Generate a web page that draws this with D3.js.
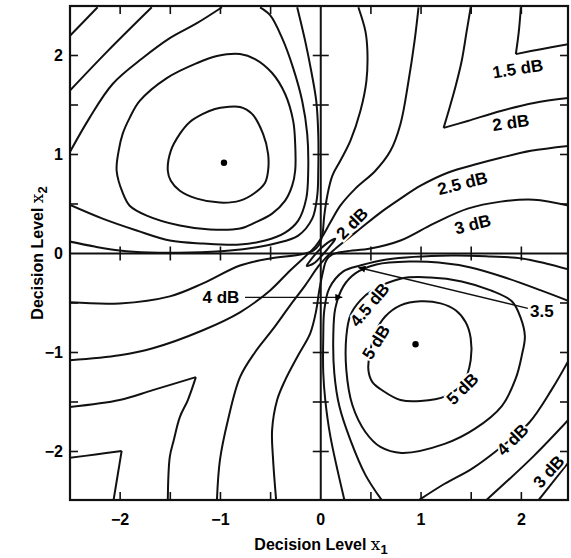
<!DOCTYPE html>
<html><head><meta charset="utf-8">
<script src="https://cdn.jsdelivr.net/npm/d3@7"></script>
<style>body{margin:0;background:#fff}svg{display:block}</style>
</head><body>
<svg id="c" width="571" height="558"></svg>
<script>
// ---------- data ----------
const tickLabels = [-2, -1, 0, 1, 2];
const minorTicks = [-2, -1.5, -1, -0.5, 0.5, 1, 1.5, 2];
const maxima = [[-0.965, 0.916], [0.945, -0.916]];

// upper-left lobe
const ul50 = [[-1.525,0.836],[-1.495,1.037],[-1.405,1.208],[-1.305,1.329],[-1.175,1.410],[-1.055,1.460],[-0.935,1.480],[-0.805,1.480],[-0.685,1.410],[-0.575,1.208],[-0.525,1.007],[-0.525,0.836],[-0.555,0.715],[-0.655,0.614],[-0.805,0.534],[-1.005,0.514],[-1.235,0.554],[-1.405,0.634],[-1.495,0.735]];
const ul45 = [[-2.035,0.836],[-2.015,1.037],[-1.975,1.208],[-1.905,1.370],[-1.805,1.541],[-1.535,1.772],[-1.235,1.923],[-1.035,1.994],[-0.805,2.014],[-0.655,1.964],[-0.485,1.823],[-0.355,1.611],[-0.275,1.339],[-0.255,1.108],[-0.255,0.836],[-0.285,0.685],[-0.355,0.534],[-0.485,0.403],[-0.655,0.312],[-0.805,0.252],[-1.105,0.242],[-1.405,0.282],[-1.735,0.383],[-1.905,0.483],[-1.975,0.614]];
const ul40a = [[-2.505,1.017],[-2.305,1.370],[-2.075,1.712],[-1.775,1.974],[-1.505,2.175],[-1.235,2.326],[-0.985,2.487]];
const ul40b = [[-0.605,2.487],[-0.505,2.407],[-0.385,2.175],[-0.275,1.873],[-0.185,1.541],[-0.135,1.208],[-0.125,0.836],[-0.145,0.554],[-0.225,0.332],[-0.355,0.211],[-0.555,0.131],[-0.805,0.091],[-1.175,0.101],[-1.505,0.131],[-1.835,0.232],[-2.175,0.352],[-2.505,0.493]];
const ul35axis = [[-2.505,0.121],[-2.255,0.070],[-2.005,0.030],[-1.705,0.010],[-1.305,0.010],[-0.905,0.030],[-0.655,0.060],[-0.455,0.101],[-0.225,0.181],[-0.085,0.352],[-0.035,0.584],[-0.025,0.836],[-0.025,1.208],[-0.045,1.541],[-0.095,1.843],[-0.155,2.145],[-0.235,2.487]];
const ul35corner = [[-2.505,1.641],[-2.125,2.044],[-1.685,2.487]];
const ul30corner = [[-2.505,2.195],[-2.225,2.487]];

// upper-right
const ur15a = [[1.995,2.487],[1.975,2.246],[1.945,2.014]];
const ur15b = [[1.945,2.014],[2.195,2.064],[2.475,2.115]];
const ur20a = [[1.495,2.487],[1.455,2.246],[1.405,1.944],[1.345,1.692],[1.275,1.440],[1.225,1.269]];
const ur20b = [[1.225,1.269],[1.465,1.339],[1.795,1.440],[2.125,1.521],[2.475,1.571]];

// lower-left
const ll15a = [[-2.505,-2.065],[-2.245,-2.030],[-1.985,-1.994]];
const ll15b = [[-1.985,-1.994],[-2.025,-2.240],[-2.065,-2.487]];
const ll20a = [[-2.505,-1.551],[-2.005,-1.480],[-1.675,-1.380],[-1.245,-1.249]];
const ll20b = [[-1.245,-1.249],[-1.325,-1.480],[-1.405,-1.652],[-1.465,-1.883],[-1.505,-2.054],[-1.525,-2.487]];

// curves through the centre
const q25 = [[2.475,1.088],[2.095,1.037],[1.795,0.967],[1.565,0.906],[1.265,0.816],[0.995,0.685],[0.795,0.554],[0.595,0.413],[0.395,0.252],[0.245,0.131],[0.125,0.030],[0.045,-0.050],[-0.025,-0.131],[-0.155,-0.322],[-0.305,-0.524],[-0.485,-0.775],[-0.655,-0.997],[-0.805,-1.249],[-0.925,-1.682],[-1.005,-2.085],[-1.035,-2.487]];
const r25 = [[0.975,2.487],[0.935,2.145],[0.875,1.742],[0.795,1.309],[0.695,1.037],[0.545,0.836],[0.345,0.655],[0.195,0.483],[0.095,0.312],[0.015,0.171],[-0.055,0.070],[-0.155,-0.030],[-0.305,-0.171],[-0.505,-0.373],[-0.805,-0.594],[-1.175,-0.775],[-1.675,-0.957],[-2.005,-1.027],[-2.505,-1.078]];
const p30 = [[2.475,0.483],[2.125,0.544],[1.795,0.524],[1.465,0.453],[1.125,0.302],[0.795,0.131],[0.495,0.050],[0.245,0.020],[0.115,-0.010],[0.055,-0.070],[0.025,-0.171],[-0.015,-0.373],[-0.045,-0.574],[-0.105,-0.806],[-0.225,-1.027],[-0.355,-1.279],[-0.435,-1.480],[-0.485,-1.782],[-0.475,-2.085],[-0.445,-2.487]];
const s30 = [[0.375,2.487],[0.445,2.246],[0.465,2.044],[0.455,1.742],[0.395,1.440],[0.295,1.138],[0.195,0.937],[0.115,0.785],[0.065,0.584],[0.035,0.383],[0.015,0.181],[-0.015,0.091],[-0.075,0.030],[-0.205,-0.010],[-0.505,-0.050],[-0.805,-0.121],[-1.175,-0.302],[-1.505,-0.433],[-2.005,-0.504],[-2.505,-0.493]];
const origin20 = [[-0.140,-0.125],[-0.100,-0.065],[-0.020,0.030],[0.070,0.110],[0.145,0.148],[0.100,0.085],[0.020,-0.010],[-0.070,-0.100]];

// lower-right lobe
const lr50 = [[0.475,-1.178],[0.495,-0.977],[0.555,-0.775],[0.645,-0.634],[0.795,-0.524],[0.995,-0.483],[1.195,-0.504],[1.345,-0.574],[1.445,-0.695],[1.495,-0.856],[1.495,-1.078],[1.425,-1.299],[1.245,-1.440],[0.995,-1.490],[0.795,-1.480],[0.625,-1.390],[0.515,-1.299]];
const lr45 = [[2.035,-0.836],[2.005,-1.027],[1.945,-1.259],[1.805,-1.541],[1.535,-1.772],[1.235,-1.923],[0.805,-2.014],[0.595,-1.954],[0.445,-1.803],[0.315,-1.531],[0.255,-1.178],[0.255,-0.836],[0.295,-0.624],[0.395,-0.473],[0.515,-0.373],[0.805,-0.252],[1.095,-0.242],[1.405,-0.282],[1.695,-0.373],[1.905,-0.483],[1.995,-0.655]];
const lr40a = [[0.605,-2.487],[0.445,-2.236],[0.295,-1.883],[0.185,-1.541],[0.135,-1.208],[0.125,-0.836],[0.145,-0.554],[0.225,-0.332],[0.345,-0.201],[0.555,-0.111],[0.895,-0.081],[1.175,-0.091],[1.495,-0.141],[1.835,-0.242],[2.195,-0.373],[2.505,-0.493]];
const lr40b = [[2.505,-1.017],[2.305,-1.370],[2.075,-1.712],[1.775,-1.974],[1.505,-2.175],[1.235,-2.326],[0.985,-2.487]];
const lr35axis = [[0.235,-2.487],[0.095,-1.843],[0.045,-1.480],[0.025,-1.208],[0.025,-0.836],[0.035,-0.574],[0.085,-0.352],[0.225,-0.181],[0.395,-0.121],[0.655,-0.060],[1.305,-0.020],[1.695,-0.030],[2.005,-0.050],[2.245,-0.101],[2.505,-0.171]];
const lr35corner = [[2.505,-1.641],[2.125,-2.044],[1.655,-2.487]];
const lr30corner = [[2.505,-2.065],[2.175,-2.487]];

const openCurves = [ul40a, ul40b, ul35axis, ul35corner, ul30corner, ur15a, ur15b, ur20a, ur20b,
  ll15a, ll15b, ll20a, ll20b, q25, r25, p30, s30, lr40a, lr40b, lr35axis, lr35corner, lr30corner];
const closedCurves = [ul50, ul45, lr50, lr45, origin20];

// level labels: text, position (x1, x2), angle
const labels = [
  {t:"1.5 dB", p:[1.965,1.863], a:-9},
  {t:"2 dB",   p:[1.895,1.319], a:-8},
  {t:"2.5 dB", p:[1.415,0.705], a:-14},
  {t:"3 dB",   p:[1.515,0.292], a:-14},
  {t:"2 dB",   p:[0.315,0.302], a:-45},
  {t:"4.5 dB", p:[0.490,-0.520], a:-50},
  {t:"5 dB",   p:[0.555,-0.896], a:-58},
  {t:"5 dB",   p:[1.415,-1.370], a:-45},
  {t:"4 dB",   p:[1.915,-1.883], a:-45},
  {t:"3 dB",   p:[2.275,-2.205], a:-48},
  {t:"4 dB",   p:[-0.995,-0.443], a:0},
  {t:"3.5",    p:[2.205,-0.584], a:0}
];
const arrows = [
  {from:[-0.755,-0.443], to:[0.215,-0.443]},
  {from:[2.065,-0.554], to:[0.375,-0.141]}
];

// ---------- drawing ----------
const svg = d3.select("#c");
const x = d3.scaleLinear().domain([-2.5, 2.465]).range([70, 568]);
const y = d3.scaleLinear().domain([-2.49, 2.5]).range([500, 6]);
const [X0, X1] = x.range(), [Y0, Y1] = [y.range()[1], y.range()[0]];
const font = "'Liberation Sans', Arial, Helvetica, sans-serif";

svg.append("defs").append("clipPath").attr("id","clip")
  .append("rect").attr("x",X0).attr("y",Y0).attr("width",X1-X0).attr("height",Y1-Y0);

const plot = svg.append("g").attr("clip-path","url(#clip)");
const line = d3.line().x(d=>x(d[0])).y(d=>y(d[1])).curve(d3.curveCatmullRom.alpha(0.5));
const lineC = d3.line().x(d=>x(d[0])).y(d=>y(d[1])).curve(d3.curveCatmullRomClosed.alpha(0.5));

plot.selectAll("path.o").data(openCurves).join("path").attr("class","o")
  .attr("d", line).attr("fill","none").attr("stroke","#111").attr("stroke-width",2);
plot.selectAll("path.c").data(closedCurves).join("path").attr("class","c")
  .attr("d", lineC).attr("fill","none").attr("stroke","#111").attr("stroke-width",2);

// inner axes
const ax = svg.append("g").attr("stroke","#111");
ax.append("line").attr("x1",x(0)).attr("x2",x(0)).attr("y1",Y0).attr("y2",Y1).attr("stroke-width",2);
ax.append("line").attr("x1",X0).attr("x2",X1).attr("y1",y(0)).attr("y2",y(0)).attr("stroke-width",2);
minorTicks.forEach(v=>{
  ax.append("line").attr("x1",x(0)-8).attr("x2",x(0)+8).attr("y1",y(v)).attr("y2",y(v)).attr("stroke-width",1.6);
  ax.append("line").attr("x1",x(v)).attr("x2",x(v)).attr("y1",y(0)-7).attr("y2",y(0)+7).attr("stroke-width",1.6);
  // frame ticks
  ax.append("line").attr("x1",X0).attr("x2",X0+8).attr("y1",y(v)).attr("y2",y(v)).attr("stroke-width",1.6);
  ax.append("line").attr("x1",X1).attr("x2",X1-8).attr("y1",y(v)).attr("y2",y(v)).attr("stroke-width",1.6);
  ax.append("line").attr("x1",x(v)).attr("x2",x(v)).attr("y1",Y0).attr("y2",Y0+8).attr("stroke-width",1.6);
  ax.append("line").attr("x1",x(v)).attr("x2",x(v)).attr("y1",Y1).attr("y2",Y1-8).attr("stroke-width",1.6);
});
svg.append("rect").attr("x",X0).attr("y",Y0).attr("width",X1-X0).attr("height",Y1-Y0)
  .attr("fill","none").attr("stroke","#111").attr("stroke-width",2.2);

// maxima
svg.selectAll("circle.m").data(maxima).join("circle").attr("class","m")
  .attr("cx",d=>x(d[0])).attr("cy",d=>y(d[1])).attr("r",3.2).attr("fill","#000");

// arrows
svg.append("defs").append("marker").attr("id","ah").attr("viewBox","0 0 10 10")
  .attr("refX",10).attr("refY",5).attr("markerWidth",15).attr("markerHeight",7)
  .attr("markerUnits","userSpaceOnUse").attr("orient","auto")
  .append("path").attr("d","M0,0L10,5L0,10Z").attr("fill","#000");
svg.selectAll("line.ar").data(arrows).join("line").attr("class","ar")
  .attr("x1",d=>x(d.from[0])).attr("y1",d=>y(d.from[1]))
  .attr("x2",d=>x(d.to[0])).attr("y2",d=>y(d.to[1]))
  .attr("stroke","#111").attr("stroke-width",1.4).attr("marker-end","url(#ah)");

// level labels
svg.selectAll("text.lb").data(labels).join("text").attr("class","lb")
  .attr("transform",d=>`translate(${x(d.p[0])},${y(d.p[1])}) rotate(${d.a})`)
  .attr("text-anchor","middle").attr("dominant-baseline","central")
  .attr("font-family",font).attr("font-weight","bold").attr("font-size",17)
  .attr("fill","#000").attr("stroke","#fff").attr("stroke-width",4)
  .attr("paint-order","stroke").text(d=>d.t);

// tick labels
const fmt = v => v < 0 ? "\u2212" + Math.abs(v) : String(v);
svg.selectAll("text.xt").data(tickLabels).join("text").attr("class","xt")
  .attr("x",d=>x(d)).attr("y",524.5).attr("text-anchor","middle")
  .attr("font-family",font).attr("font-weight","bold").attr("font-size",16).text(fmt);
svg.selectAll("text.yt").data(tickLabels).join("text").attr("class","yt")
  .attr("x",63).attr("y",d=>y(d)).attr("text-anchor","end").attr("dominant-baseline","central")
  .attr("font-family",font).attr("font-weight","bold").attr("font-size",16).text(fmt);

// axis titles
function title(g, sub){
  g.attr("text-anchor","middle").attr("font-family",font).attr("font-weight","bold").attr("font-size",16);
  g.append("tspan").text("Decision Level ");
  g.append("tspan").attr("font-family","'DejaVu Serif', serif").attr("font-weight","normal").attr("font-size",17).text("x");
  g.append("tspan").attr("dy",4).attr("font-size",13).text(sub);
}
title(svg.append("text").attr("x",321).attr("y",550), "1");
title(svg.append("text").attr("transform","translate(43,253) rotate(-90)"), "2");
</script>
</body></html>
